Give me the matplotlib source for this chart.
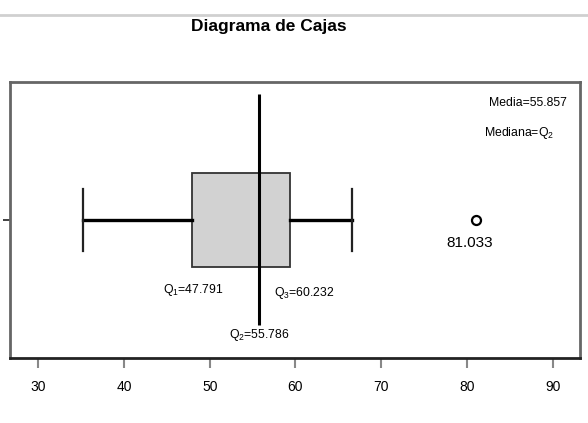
import matplotlib.pyplot as plt
from matplotlib.lines import Line2D

# valores
minimo = 35.2
q1 = 47.9
mediana = 55.786
q3 = 59.4
maximo = 66.55
atipicos = [81.033]
media = 55.857

etiqueta_q1 = 'Q$_1$=47.791'
etiqueta_q2 = 'Q$_2$=55.786'
etiqueta_q3 = 'Q$_3$=60.232'
xticks = [30, 40, 50, 60, 70, 80, 90]

plt.rcParams['font.family'] = ['Liberation Sans', 'DejaVu Sans']
plt.rcParams['mathtext.fontset'] = 'custom'
plt.rcParams['mathtext.rm'] = 'Liberation Sans'
plt.rcParams['mathtext.it'] = 'Liberation Sans'

fig = plt.figure(figsize=(5.88, 4.23), dpi=100)
ax = fig.add_axes([10 / 588, 1 - 358 / 423, 570 / 588, 276 / 423])

stats = [{'whislo': minimo, 'q1': q1, 'med': mediana, 'q3': q3,
          'whishi': maximo, 'fliers': atipicos}]
ax.bxp(stats, positions=[0.5], widths=0.34, capwidths=0.225,
       orientation='horizontal', patch_artist=True,
       boxprops=dict(facecolor='#d2d2d2', edgecolor='#333333', linewidth=1.3),
       whiskerprops=dict(color='black', linewidth=2.4),
       capprops=dict(color='#222222', linewidth=1.6),
       medianprops=dict(linewidth=0),
       flierprops=dict(marker='o', markerfacecolor='none', markeredgecolor='black',
                       markersize=6.5, markeredgewidth=1.6))

# linea de la mediana
ax.vlines(mediana, 0.12, 0.957, color='black', linewidth=2.2)

ax.set_xlim(26.7, 93.2)
ax.set_ylim(0, 1)
ax.set_xticks(xticks)
ax.set_yticks([0.5])
ax.set_yticklabels([''])
ax.tick_params(axis='x', length=7, width=1.5, color='#888888', pad=9, labelsize=10)
ax.tick_params(axis='y', length=5, width=1.3, color='#333333')
for s in ax.spines.values():
    s.set_color('#666666')
    s.set_linewidth(2)
ax.spines['bottom'].set_color('#222222')

ax.text(44.6, 0.246, etiqueta_q1, fontsize=8.8, va='center', ha='left')
ax.text(57.5, 0.236, etiqueta_q3, fontsize=8.8, va='center', ha='left')
ax.text(52.2, 0.083, etiqueta_q2, fontsize=8.8, va='center', ha='left')
ax.text(80.37, 0.417, '81.033', fontsize=11, va='center', ha='center')
ax.text(0.977, 0.924, 'Media=%.3f' % media, fontsize=8.8, transform=ax.transAxes,
        ha='right', va='center')
ax.text(0.954, 0.815, 'Mediana=Q$_2$', fontsize=8.8, transform=ax.transAxes,
        ha='right', va='center')

fig.text(269 / 588, 1 - 27 / 423, 'Diagrama de Cajas', fontsize=12.5, fontweight='bold',
         ha='center', va='center')
fig.add_artist(Line2D([0, 1], [1 - 15 / 423, 1 - 15 / 423], color='#d0d0d0', linewidth=2))

fig.savefig('out.png', dpi=100)
